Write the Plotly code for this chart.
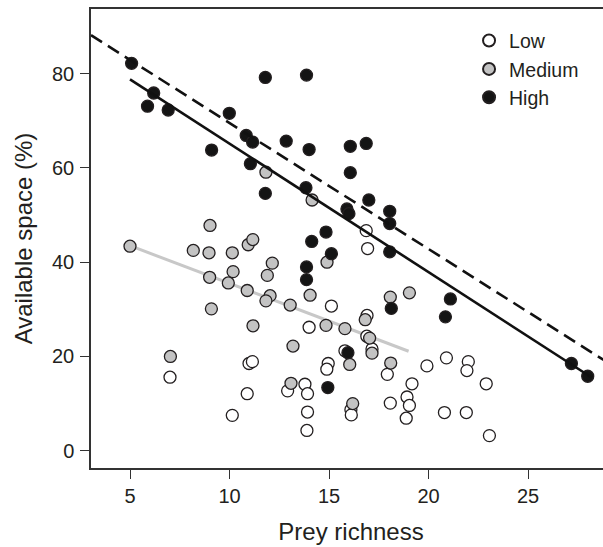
import plotly.graph_objects as go

# ---- data ----
low_x = [7.01, 15.12, 14.0, 10.98, 11.15, 14.96, 14.89, 15.8, 13.79, 12.92, 13.92, 10.89,
         10.14, 13.92, 13.89, 16.87, 16.94, 16.91, 16.9, 17.16, 17.93, 19.17, 19.92, 20.9,
         22.0, 21.93, 22.9, 18.08, 18.92, 19.04, 18.88, 20.8, 21.9, 23.06, 16.1, 16.12]
low_y = [15.6, 30.7, 26.2, 18.5, 18.9, 18.5, 17.3, 21.2, 14.1, 12.7, 12.1, 12.1,
         7.5, 8.2, 4.3, 46.7, 42.9, 28.7, 24.3, 21.6, 16.2, 14.2, 18.0, 19.7,
         18.9, 17.0, 14.2, 10.1, 11.4, 9.6, 6.9, 8.1, 8.1, 3.2, 8.7, 7.6]

med_x = [5.0, 8.18, 8.97, 10.14, 10.94, 11.17, 12.15, 10.18, 11.9, 9.0, 9.94, 10.89,
         12.04, 11.83, 13.05, 14.05, 14.9, 9.09, 11.18, 14.85, 15.8, 13.19, 7.03, 13.09,
         16.82, 17.04, 17.16, 16.04, 18.1, 16.19, 18.08, 19.04, 11.83, 14.15, 9.02]
med_y = [43.4, 42.5, 42.0, 42.0, 43.7, 44.8, 39.8, 38.0, 37.2, 36.8, 35.6, 34.0,
         32.9, 31.8, 30.9, 33.0, 40.0, 30.1, 26.5, 26.6, 25.9, 22.2, 20.0, 14.3,
         27.8, 23.9, 20.7, 18.3, 18.6, 10.0, 32.6, 33.5, 59.1, 53.2, 47.8]

high_x = [5.08, 6.19, 5.88, 6.92, 11.8, 13.87, 9.99, 10.84, 11.16, 12.85, 14.0, 9.1,
          11.05, 13.84, 11.8, 14.85, 14.13, 16.07, 16.87, 16.07, 17.0, 15.9, 16.0, 18.05,
          18.05, 15.12, 13.87, 13.87, 18.05, 18.13, 21.1, 20.85, 27.18, 28.0, 15.95, 14.94]
high_y = [82.2, 75.9, 73.1, 72.3, 79.2, 79.7, 71.6, 66.9, 65.5, 65.7, 63.9, 63.8,
          60.9, 55.8, 54.6, 46.4, 44.4, 64.6, 65.2, 59.0, 53.2, 51.3, 50.3, 50.8,
          48.2, 41.8, 39.0, 36.3, 42.2, 30.2, 32.2, 28.4, 18.5, 15.8, 20.8, 13.4]

# regression lines: [intercept, slope] and x extent
med_fit = [51.5, -1.6]
med_fit_x = [5.0, 19.0]
high_fit = [92.44, -2.727]
high_fit_x = [5.0, 28.2]
dash_fit = [96.3, -2.675]
dash_fit_x = [3.04, 29.1]

x_ticks = [5, 10, 15, 20, 25]
y_ticks = [0, 20, 40, 60, 80]

FONT = "Liberation Sans, Arial, Helvetica, sans-serif"
INK = "#231f20"
AXIS = "#333333"


def line_y(fit, xs):
    return [fit[0] + fit[1] * x for x in xs]


fig = go.Figure()

fig.add_trace(go.Scatter(x=med_fit_x, y=line_y(med_fit, med_fit_x), mode="lines",
                         line=dict(color="#c8c8c8", width=3), showlegend=False,
                         hoverinfo="skip"))

mk_line = dict(color=INK, width=1.3)
fig.add_trace(go.Scatter(x=low_x, y=low_y, mode="markers", name="Low",
                         marker=dict(size=12, color="white", line=mk_line)))
fig.add_trace(go.Scatter(x=med_x, y=med_y, mode="markers", name="Medium",
                         marker=dict(size=12, color="#c3c3c3", line=mk_line)))
fig.add_trace(go.Scatter(x=high_x, y=high_y, mode="markers", name="High",
                         marker=dict(size=12, color="#141414", line=mk_line)))

fig.add_trace(go.Scatter(x=high_fit_x, y=line_y(high_fit, high_fit_x), mode="lines",
                         line=dict(color="#111111", width=2.6), showlegend=False,
                         hoverinfo="skip"))
fig.add_trace(go.Scatter(x=dash_fit_x, y=line_y(dash_fit, dash_fit_x), mode="lines",
                         line=dict(color="#111111", width=2.6, dash="13px,7px"),
                         showlegend=False, hoverinfo="skip"))

# plot area deliberately runs past the 603 px window so its right edge is not shown
fig.update_layout(
    width=611, height=547,
    margin=dict(l=91, r=0, t=9, b=79, autoexpand=False),
    paper_bgcolor="white", plot_bgcolor="white",
    font=dict(family=FONT, color=INK, size=20),
    showlegend=True,
    legend=dict(x=0.727, y=0.973, xanchor="left", yanchor="top",
                font=dict(size=19.5, family=FONT, color=INK),
                bgcolor="rgba(0,0,0,0)", borderwidth=0, itemsizing="constant",
                tracegroupgap=0, itemwidth=30),
)

fig.update_xaxes(
    range=[3.04, 29.17], tickvals=x_ticks, ticktext=[str(v) for v in x_ticks],
    showgrid=False, zeroline=False, showline=True, mirror=True,
    linecolor=AXIS, linewidth=1.5, automargin=False,
    ticks="outside", ticklen=9, tickwidth=1.3, tickcolor=AXIS,
    tickfont=dict(size=20, family=FONT, color=INK),
    title=dict(text="Prey richness", font=dict(size=24, family=FONT, color=INK),
               standoff=17),
)
fig.update_yaxes(
    range=[-3.67, 93.73], tickvals=y_ticks, ticktext=[str(v) for v in y_ticks],
    showgrid=False, zeroline=False, showline=True, mirror=False,
    linecolor=AXIS, linewidth=1.5, automargin=False,
    ticks="outside", ticklen=9, tickwidth=1.3, tickcolor=AXIS,
    tickfont=dict(size=20, family=FONT, color=INK), ticklabelstandoff=2,
    title=dict(text="Available space (%)", font=dict(size=24, family=FONT, color=INK),
               standoff=13),
)

fig.write_html(
    "out.html", config={"displayModeBar": False},
    post_script=("document.body.style.margin='0';document.body.style.padding='0';"
                 "document.body.style.overflow='hidden';"
                 "document.documentElement.style.overflow='hidden';"))
